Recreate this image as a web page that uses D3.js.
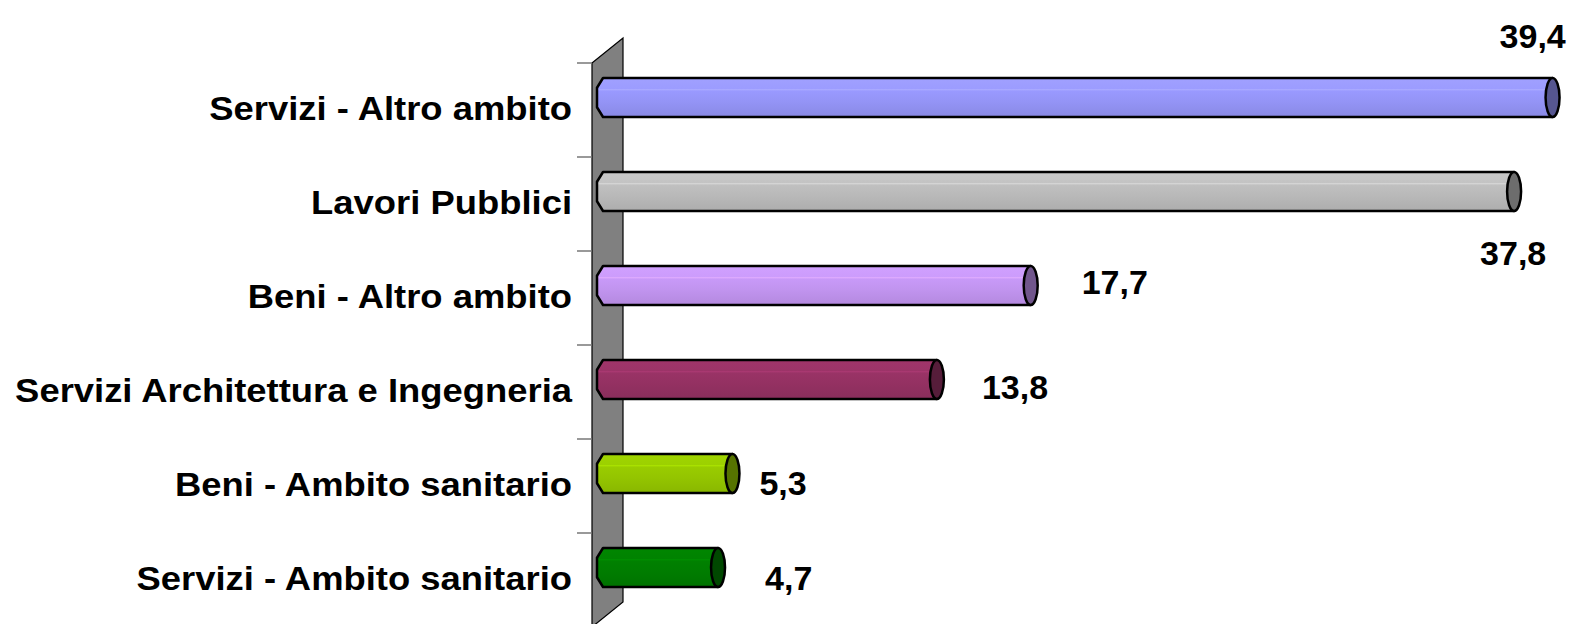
<!DOCTYPE html>
<html>
<head>
<meta charset="utf-8">
<script src="https://cdn.jsdelivr.net/npm/d3@7"></script>
<style>
  html, body { margin: 0; padding: 0; background: #fff; }
  svg { display: block; }
</style>
</head>
<body>
<svg id="chart"></svg>
<script>
// chart data
var categories = ['Servizi - Altro ambito', 'Lavori Pubblici', 'Beni - Altro ambito',
    'Servizi Architettura e Ingegneria', 'Beni - Ambito sanitario', 'Servizi - Ambito sanitario']
var values = [39.4, 37.8, 17.7, 13.8, 5.3, 4.7]
var palette = ['#9999ff', '#c0c0c0', '#c899f8', '#993366', '#99cc00', '#008000']

// value label nudges (Excel put them in odd places), dx from bar end, dy from bar centre
var labelNudge = [[-53, -50], [-34, 73], [51, 8], [45, 19], [27, 21], [47, 22]]

var svgWidth = 1571, svgHeight = 624
var depth = { dx: 31, dy: -25 }   // 3D offset of the back wall

var svg = d3.select('#chart')
    .attr('width', svgWidth)
    .attr('height', svgHeight)

var fmt = d3.formatLocale({ decimal: ',', thousands: '.', grouping: [3], currency: ['', '€'] }).format('.1f')

var x = d3.scaleLinear()
    .domain([0, 40])
    .range([605, 1567])

var y = d3.scaleBand()
    .domain(categories)
    .range([63, 627])

var bh = y.bandwidth() * 0.415
var wallX = x(0) - 13

// gradients for the cylinder shading
var defs = svg.append('defs')
palette.forEach(function (c, i) {
    var col = d3.color(c)
    var g = defs.append('linearGradient')
        .attr('id', 'grad' + i)
        .attr('x1', 0).attr('y1', 0).attr('x2', 0).attr('y2', 1)
    g.append('stop').attr('offset', '0%').attr('stop-color', col.brighter(0.12))
    g.append('stop').attr('offset', '28%').attr('stop-color', col.brighter(0.05))
    g.append('stop').attr('offset', '30%').attr('stop-color', col.brighter(0.35))
    g.append('stop').attr('offset', '33%').attr('stop-color', col)
    g.append('stop').attr('offset', '60%').attr('stop-color', col.darker(0.1))
    g.append('stop').attr('offset', '100%').attr('stop-color', col.darker(0.3))
})

// back wall
var top0 = y.range()[0], bot0 = y.range()[1]
svg.append('path')
    .attr('d', 'M' + wallX + ',' + top0 +
        'L' + (wallX + depth.dx) + ',' + (top0 + depth.dy) +
        'L' + (wallX + depth.dx) + ',' + (bot0 + depth.dy) +
        'L' + wallX + ',' + bot0 + 'Z')
    .attr('fill', '#808080')
    .attr('stroke', '#000')
    .attr('stroke-width', 1.2)

// tick marks at band edges
var edges = categories.map(function (c) { return y(c) }).concat([bot0])
svg.append('g').selectAll('line')
    .data(edges)
    .enter().append('line')
    .attr('x1', wallX - 15).attr('x2', wallX)
    .attr('y1', function (d) { return d }).attr('y2', function (d) { return d })
    .attr('stroke', '#777')
    .attr('stroke-width', 1.5)

// category labels (stretched a bit like the original)
svg.append('g').selectAll('text')
    .data(categories)
    .enter().append('text')
    .attr('transform', function (d) {
        return 'translate(572,' + (y(d) + y.bandwidth() / 2 + 10) + ') scale(1.12,1)'
    })
    .attr('text-anchor', 'end')
    .attr('font-family', 'Liberation Sans, Arial, sans-serif')
    .attr('font-weight', 'bold')
    .attr('font-size', 32.5)
    .text(function (d) { return d })

// bars as cylinders
var bars = svg.append('g').selectAll('g')
    .data(values)
    .enter().append('g')

function cy(i) { return y(categories[i]) + y.bandwidth() / 2 + depth.dy / 2 }

bars.append('path')
    .attr('d', function (d, i) {
        var x0 = x(0) - 8, xe = x(d), c = cy(i)
        return 'M' + x0 + ',' + (c - bh / 4) +
            'L' + (x0 + 6) + ',' + (c - bh / 2) +
            'L' + xe + ',' + (c - bh / 2) +
            'L' + xe + ',' + (c + bh / 2) +
            'L' + (x0 + 6) + ',' + (c + bh / 2) +
            'L' + x0 + ',' + (c + bh / 4) + 'Z'
    })
    .attr('fill', function (d, i) { return 'url(#grad' + i + ')' })
    .attr('stroke', '#000')
    .attr('stroke-width', 2.5)
    .attr('stroke-linejoin', 'round')

bars.append('ellipse')
    .attr('cx', function (d) { return x(d) })
    .attr('cy', function (d, i) { return cy(i) })
    .attr('rx', 7)
    .attr('ry', bh / 2)
    .attr('fill', function (d, i) { return d3.color(palette[i]).darker(1.6) })
    .attr('stroke', '#000')
    .attr('stroke-width', 2.5)

// value labels
svg.append('g').selectAll('text')
    .data(values)
    .enter().append('text')
    .attr('x', function (d, i) { return x(d) + labelNudge[i][0] })
    .attr('y', function (d, i) { return cy(i) + labelNudge[i][1] })
    .attr('font-family', 'Liberation Sans, Arial, sans-serif')
    .attr('font-weight', 'bold')
    .attr('font-size', 34)
    .text(function (d) { return fmt(d) })
</script>
</body>
</html>
